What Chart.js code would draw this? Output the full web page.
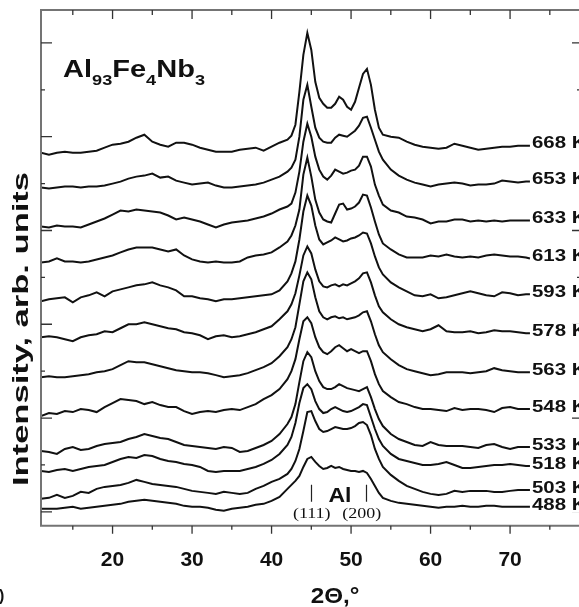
<!DOCTYPE html>
<html>
<head>
<meta charset="utf-8">
<title>Al93Fe4Nb3 XRD patterns</title>
<script src="https://cdn.jsdelivr.net/npm/chart.js@4.4.1/dist/chart.umd.min.js"></script>
<style>
  html, body { margin: 0; padding: 0; background: #fff; }
  canvas { display: block; }
</style>
</head>
<body>
<canvas id="xrd" width="579" height="607"></canvas>
<script>
// 2θ grid in degrees, shared by every pattern (finer around the Al reflections)
const twoTheta = [11, 12, 13, 14, 15, 16, 17, 18, 19, 20, 21, 22, 23, 24, 25, 26, 27, 28, 29, 30,
  31, 32, 33, 34, 35, 36, 37, 38, 39, 40, 41,
  42, 42.5, 43, 43.5, 44, 44.5, 45, 45.5, 46, 46.5, 47, 47.5, 48, 48.5, 49, 49.5, 50, 50.5,
  51, 51.5, 52, 52.5, 53, 53.5, 54,
  55, 56, 57, 58, 59, 60, 61, 62, 63, 64, 65, 66, 67, 68, 69, 70, 71, 72, 72.5];

const temps = ['488 K', '503 K', '518 K', '533 K', '548 K', '563 K', '578 K', '593 K', '613 K', '633 K', '653 K', '668 K'];

// stacked intensities, arb. units (each pattern already carries its vertical offset)
const i488 = [3, 3, 3, 4, 5, 3, 4, 5, 6, 7, 8, 10, 11, 12, 11, 10, 9, 8, 6, 5, 5, 4, 2, 1, 3, 4, 5, 7, 8, 11, 15,
  23, 27, 31, 36, 45, 53, 55, 50, 46, 43, 44, 46, 44, 45, 43, 42, 41, 41, 40, 41, 39, 33, 26, 19, 14,
  11, 9, 8, 7, 6, 5, 4, 5, 5, 6, 5, 5, 6, 6, 5, 5, 5, 5, 5];
const i503 = [13, 14, 17, 14, 16, 20, 19, 23, 25, 26, 27, 29, 32, 30, 28, 27, 26, 25, 23, 21, 20, 19, 18, 20, 19, 18, 19, 23, 26, 30, 33,
  38, 43, 51, 63, 81, 100, 101, 91, 83, 80, 81, 83, 85, 84, 83, 83, 84, 86, 89, 90, 87, 77, 63, 53, 45,
  37, 31, 26, 23, 20, 18, 17, 18, 21, 20, 21, 21, 21, 20, 20, 21, 22, 22, 22];
const i518 = [41, 40, 42, 43, 41, 43, 45, 46, 47, 50, 53, 55, 54, 57, 56, 53, 51, 50, 48, 47, 45, 41, 40, 41, 41, 41, 43, 45, 48, 52, 58,
  67, 75, 89, 109, 124, 128, 123, 111, 103, 99, 100, 103, 105, 103, 101, 100, 101, 103, 105, 108, 107, 95, 83, 73, 66,
  58, 53, 51, 49, 47, 47, 48, 50, 47, 44, 44, 45, 46, 47, 47, 48, 47, 46, 46];
const i533 = [61, 60, 58, 63, 65, 62, 63, 66, 68, 69, 70, 73, 75, 78, 76, 74, 73, 70, 67, 66, 65, 64, 63, 65, 64, 60, 61, 64, 67, 71, 78,
  88, 95, 108, 130, 151, 160, 155, 141, 131, 125, 123, 123, 125, 128, 126, 124, 123, 122, 121, 123, 125, 115, 103, 93, 86,
  78, 73, 70, 67, 66, 70, 67, 66, 66, 66, 65, 64, 67, 68, 65, 63, 65, 65, 65];
const i548 = [96, 99, 98, 101, 100, 103, 102, 100, 105, 109, 113, 112, 111, 108, 110, 107, 105, 105, 101, 98, 100, 101, 100, 102, 103, 102, 105, 108, 113, 117, 123,
  133, 141, 153, 173, 191, 195, 189, 175, 165, 160, 158, 161, 165, 167, 164, 161, 163, 161, 159, 161, 161, 151, 138, 128, 121,
  115, 110, 108, 105, 103, 103, 102, 101, 104, 102, 103, 103, 102, 100, 104, 105, 103, 103, 103];
const i563 = [135, 136, 135, 135, 136, 137, 138, 140, 141, 143, 147, 151, 150, 150, 148, 146, 144, 142, 141, 140, 140, 139, 137, 135, 136, 137, 139, 142, 145, 149, 156,
  165, 173, 185, 208, 231, 240, 233, 215, 201, 195, 193, 195, 196, 194, 195, 193, 194, 195, 197, 200, 201, 191, 178, 167, 160,
  153, 147, 143, 141, 139, 137, 138, 140, 140, 140, 139, 140, 141, 144, 142, 141, 140, 140, 140];
const i578 = [175, 176, 175, 173, 171, 175, 177, 178, 181, 180, 184, 188, 188, 190, 188, 186, 184, 183, 180, 179, 177, 173, 176, 177, 175, 176, 178, 180, 183, 186, 193,
  201, 208, 219, 237, 257, 266, 259, 243, 231, 226, 225, 227, 228, 226, 228, 227, 229, 231, 234, 239, 240, 230, 217, 206, 200,
  193, 188, 185, 183, 181, 183, 187, 181, 180, 180, 181, 179, 180, 182, 181, 181, 180, 179, 179];
const i593 = [211, 213, 214, 215, 210, 215, 217, 220, 216, 221, 223, 225, 227, 228, 230, 227, 225, 222, 216, 216, 214, 213, 211, 213, 213, 214, 215, 216, 217, 218, 222,
  231, 239, 251, 273, 301, 317, 307, 287, 273, 268, 270, 272, 275, 273, 271, 272, 274, 275, 277, 280, 279, 269, 256, 245, 238,
  230, 225, 221, 217, 216, 218, 214, 215, 217, 219, 221, 219, 217, 216, 220, 219, 217, 218, 218];
const i613 = [250, 251, 254, 251, 251, 250, 251, 253, 255, 257, 260, 263, 265, 265, 265, 263, 261, 263, 257, 253, 251, 250, 251, 250, 250, 251, 255, 257, 258, 260, 265,
  271, 277, 287, 303, 338, 355, 336, 313, 300, 293, 291, 290, 299, 308, 309, 303, 304, 306, 310, 318, 317, 305, 291, 278, 269,
  263, 258, 255, 255, 255, 257, 256, 258, 256, 255, 256, 255, 257, 258, 257, 256, 256, 255, 254];
const i633 = [286, 285, 287, 286, 286, 285, 288, 291, 294, 298, 302, 301, 303, 302, 301, 300, 297, 293, 295, 293, 291, 288, 285, 288, 290, 291, 292, 294, 296, 299, 303,
  306, 309, 320, 341, 371, 389, 376, 356, 343, 336, 333, 337, 343, 341, 339, 340, 342, 343, 347, 356, 356, 346, 328, 317, 308,
  302, 300, 296, 295, 293, 289, 291, 291, 293, 293, 291, 292, 291, 292, 291, 292, 292, 292, 292];
const i653 = [325, 324, 325, 326, 326, 325, 326, 326, 327, 329, 331, 334, 336, 337, 339, 335, 336, 332, 330, 328, 329, 330, 327, 325, 325, 326, 327, 328, 330, 333, 336,
  341, 345, 353, 376, 413, 428, 406, 385, 375, 371, 370, 370, 375, 378, 377, 376, 379, 382, 387, 395, 396, 385, 373, 361, 353,
  343, 337, 333, 330, 328, 326, 328, 329, 330, 329, 327, 328, 328, 329, 332, 331, 330, 331, 331];
const i668 = [360, 358, 360, 361, 360, 360, 361, 362, 365, 368, 369, 371, 375, 378, 371, 368, 366, 370, 370, 368, 365, 363, 361, 361, 361, 363, 364, 365, 362, 366, 370,
  373, 377, 388, 421, 458, 480, 463, 431, 415, 409, 405, 405, 409, 416, 413, 406, 403, 411, 425, 439, 444, 428, 403, 385, 378,
  376, 375, 371, 368, 366, 365, 364, 365, 369, 367, 365, 363, 364, 365, 366, 366, 367, 367, 367];

const patterns = [i488, i503, i518, i533, i548, i563, i578, i593, i613, i633, i653, i668];

// axes
const xTickLabels = [20, 30, 40, 50, 60, 70];
const xMinorTicks = [15, 25, 35, 45, 55, 65, 75];
const yTicks = [0, 47, 94, 141, 188, 235, 282, 329, 376, 423, 470];

// Al reflections marked under the patterns
const alPeaks = [45.0, 51.9];
const alHkl = ['(111)', '(200)'];

const SANS = '"Liberation Sans", Arial, sans-serif';
const SERIF = '"Liberation Serif", "Times New Roman", serif';

// text drawn a little wider than the font's natural width
function wideText(ctx, text, x, y, sx, align) {
  ctx.save();
  ctx.translate(x, y);
  ctx.scale(sx, 1);
  ctx.textAlign = align || 'left';
  ctx.fillText(text, 0, 0);
  ctx.restore();
}

const decorations = {
  id: 'decorations',
  afterDraw(chart) {
    const { ctx, chartArea: a, scales: { x, y } } = chart;
    ctx.save();

    // frame: the right edge of the box falls just outside the page
    ctx.strokeStyle = '#747474';
    ctx.lineWidth = 2;
    ctx.beginPath();
    ctx.moveTo(a.right, a.top);
    ctx.lineTo(a.left, a.top);
    ctx.lineTo(a.left, a.bottom);
    ctx.lineTo(a.right, a.bottom);
    ctx.stroke();

    // ticks: inward on left/top/right, outward below the x axis
    ctx.strokeStyle = '#333';
    ctx.lineWidth = 1.3;
    ctx.beginPath();
    xTickLabels.concat(xMinorTicks).forEach(v => {
      const px = x.getPixelForValue(v);
      if (px > a.right) return;
      const major = xTickLabels.includes(v);
      ctx.moveTo(px, a.top);
      ctx.lineTo(px, a.top + (major ? 9 : 5));
      ctx.moveTo(px, a.bottom);
      ctx.lineTo(px, a.bottom + (major ? 8 : 4));
    });
    yTicks.forEach((v, k) => {
      const py = y.getPixelForValue(v);
      const major = k % 2 === 0;
      ctx.moveTo(a.left, py);
      ctx.lineTo(a.left + (major ? 11 : 4), py);
      ctx.moveTo(a.right, py);
      ctx.lineTo(a.right - (major ? 7 : 2), py);
    });
    ctx.stroke();

    // temperature of each pattern, at the end of its trace (on a white patch)
    ctx.font = 'bold 17px ' + SANS;
    ctx.textBaseline = 'middle';
    const xEnd = x.getPixelForValue(twoTheta[twoTheta.length - 1]) + 2;
    patterns.forEach((p, i) => {
      const yc = y.getPixelForValue(p[p.length - 1]) - 2;
      const w = ctx.measureText(temps[i]).width * 1.2;
      ctx.fillStyle = '#fff';
      ctx.fillRect(xEnd, yc - 8, w + 4, 16);
      ctx.fillStyle = '#111';
      wideText(ctx, temps[i], xEnd, yc, 1.2);
    });

    // alloy composition with subscripts
    ctx.textBaseline = 'alphabetic';
    let cx = a.left + 22;
    const base = a.top + 67;
    [['Al', 0], ['93', 1], ['Fe', 0], ['4', 1], ['Nb', 0], ['3', 1]].forEach(([t, sub]) => {
      ctx.font = sub ? 'bold 15px ' + SANS : 'bold 24px ' + SANS;
      wideText(ctx, t, cx, sub ? base + 8 : base, 1.21);
      cx += ctx.measureText(t).width * 1.21;
    });

    // Al reflection markers
    ctx.strokeStyle = '#222';
    ctx.lineWidth = 1.2;
    ctx.beginPath();
    alPeaks.forEach(v => {
      const px = Math.round(x.getPixelForValue(v)) + 0.5;
      ctx.moveTo(px, a.bottom - 41);
      ctx.lineTo(px, a.bottom - 24);
    });
    ctx.stroke();
    ctx.font = 'bold 20px ' + SANS;
    wideText(ctx, 'Al', x.getPixelForValue(48.6), a.bottom - 24, 1.15, 'center');
    ctx.font = '15px ' + SERIF;
    wideText(ctx, alHkl[0], x.getPixelForValue(alPeaks[0] + 0.05), a.bottom - 8, 1.2, 'center');
    wideText(ctx, alHkl[1], x.getPixelForValue(alPeaks[1] - 0.55), a.bottom - 8, 1.2, 'center');

    // axis titles
    ctx.font = 'bold 22px ' + SANS;
    wideText(ctx, '2\u0398,\u00b0', x.getPixelForValue(48), 603, 1.1, 'center');
    ctx.save();
    ctx.translate(28, 329);
    ctx.rotate(-Math.PI / 2);
    wideText(ctx, 'Intensity, arb. units', 0, 0, 1.57, 'center');
    ctx.restore();

    // panel letter, cut by the page edge
    ctx.font = 'bold 16px ' + SANS;
    ctx.fillText(')', -1, 601);

    ctx.restore();
  }
};

new Chart(document.getElementById('xrd'), {
  type: 'line',
  data: {
    datasets: patterns.map((p, i) => ({
      label: temps[i],
      data: twoTheta.map((t, j) => ({ x: t, y: p[j] })),
      borderColor: '#111',
      borderWidth: 2,
      pointRadius: 0,
      tension: 0,
      fill: false
    }))
  },
  options: {
    responsive: false,
    animation: false,
    devicePixelRatio: 1,
    layout: { padding: { left: 41, right: 0, top: 10, bottom: 12 } },
    plugins: { legend: { display: false }, tooltip: { enabled: false } },
    scales: {
      x: {
        type: 'linear',
        min: 11,
        max: 78.67,
        border: { display: false },
        grid: { display: false, drawTicks: false },
        afterBuildTicks: s => { s.ticks = xTickLabels.map(v => ({ value: v })); },
        ticks: {
          padding: 22,
          color: '#111',
          maxRotation: 0,
          font: { family: SANS, size: 21, weight: 'bold' }
        }
      },
      y: { display: false, min: -14, max: 503 }
    }
  },
  plugins: [decorations]
});
</script>
</body>
</html>
